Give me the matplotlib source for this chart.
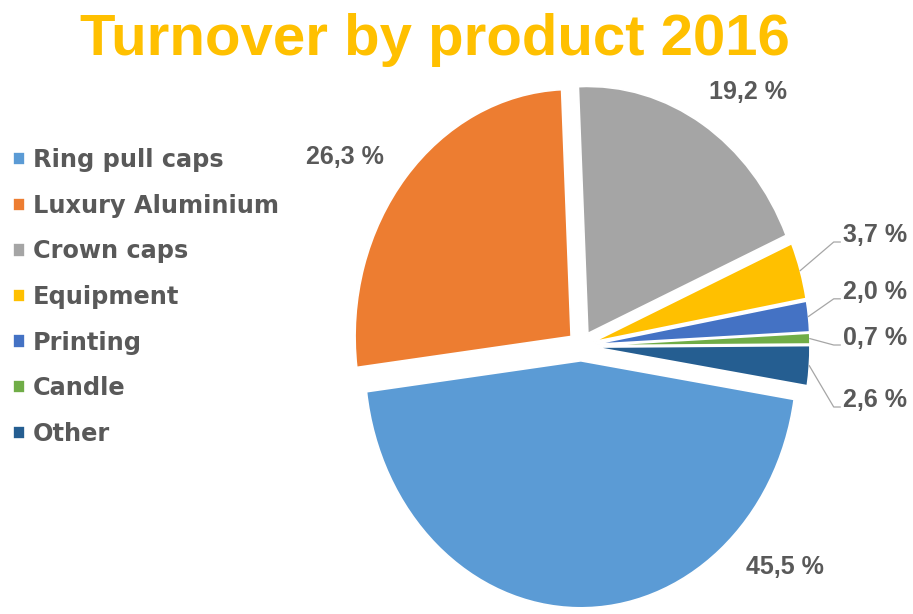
import numpy as np
import matplotlib.pyplot as plt

# data
products = ['Ring pull caps', 'Luxury Aluminium', 'Crown caps', 'Equipment',
            'Printing', 'Candle', 'Other']
shares = [45.5, 26.3, 19.2, 3.7, 2.0, 0.7, 2.6]
colors = ['#5B9BD5', '#ED7D31', '#A5A5A5', '#FFC000', '#4472C4', '#70AD47', '#255E91']
pct_labels = ['45,5 %', '26,3 %', '19,2 %', '3,7 %', '2,0 %', '0,7 %', '2,6 %']

text_col = '#595959'

fig = plt.figure(figsize=(9.13, 6.14), dpi=100)
ax = fig.add_axes([0, 0, 1, 1])

wedges, _ = ax.pie(shares, colors=colors, startangle=-9, counterclock=False,
                   explode=[0.06] * len(shares),
                   wedgeprops=dict(edgecolor='white', linewidth=1.2))

# stretched (elliptical) pie like the original picture
ax.set_aspect('auto')
cx, cy, rx, ry = 581, 346, 216, 247
ax.set_xlim(-cx / rx, (913 - cx) / rx)
ax.set_ylim(-(614 - cy) / ry, cy / ry)
ax.axis('off')

# big slices: plain labels outside
big_pos = {0: (0.944, -0.895), 1: (-1.093, 0.765), 2: (0.773, 1.028)}
for i, (x, y) in big_pos.items():
    ax.text(x, y, pct_labels[i], ha='center', va='center', fontsize=18,
            fontweight='bold', color=text_col, family='Liberation Sans')

# small slices: labels with leader lines
small_y = {3: 0.449, 4: 0.219, 5: 0.032, 6: -0.219}
for i, ty in small_y.items():
    w = wedges[i]
    mid = np.deg2rad((w.theta1 + w.theta2) / 2)
    ax_, ay_ = w.center[0] + w.r * np.cos(mid), w.center[1] + w.r * np.sin(mid)
    ey = ty - 0.028
    ax.plot([ax_, 1.17, 1.20], [ay_, ey, ey], color='#A6A6A6', lw=0.9)
    ax.text(1.213, ty, pct_labels[i], ha='left', va='center', fontsize=18,
            fontweight='bold', color=text_col, family='Liberation Sans')

fig.text(435 / 913, 1 - 40 / 614, 'Turnover by product 2016', ha='center', va='center',
         fontsize=41.9, fontweight='bold', color='#FFC000', family='Liberation Sans')

leg = fig.legend(wedges, products, loc='upper left',
                 bbox_to_anchor=(0.0064, 1 - 141 / 614),
                 frameon=False, fontsize=17.3, handlelength=0.48, handleheight=0.48,
                 handletextpad=0.35, labelspacing=0.9, borderaxespad=0.0,
                 borderpad=0.3)
for t in leg.get_texts():
    t.set_color(text_col)
    t.set_fontweight('bold')
    t.set_family('DejaVu Sans')

plt.savefig('out.png', dpi=100)
